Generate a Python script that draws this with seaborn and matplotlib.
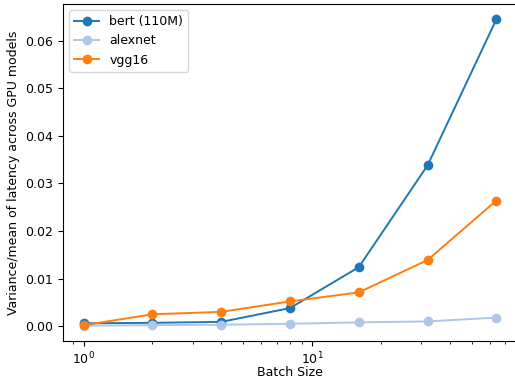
import matplotlib
matplotlib.use("Agg")
import matplotlib.pyplot as plt
import seaborn as sns
import pandas as pd

batch_sizes = [1, 2, 4, 8, 16, 32, 64]
bert = [0.0006, 0.0007, 0.0009, 0.0038, 0.0124, 0.0338, 0.0645]
alexnet = [0.0001, 0.0002, 0.0003, 0.0005, 0.0008, 0.0010, 0.0018]
vgg16 = [0.0002, 0.0025, 0.0030, 0.0052, 0.0071, 0.0139, 0.0264]
series_names = ["bert (110M)", "alexnet", "vgg16"]
colors = ["#1f77b4", "#aec7e8", "#ff7f0e"]

rows = []
for name, vals in zip(series_names, [bert, alexnet, vgg16]):
    for b, v in zip(batch_sizes, vals):
        rows.append({"Batch Size": b, "value": v, "model": name})
df = pd.DataFrame(rows)

plt.rcParams["font.size"] = 9

W, H = 515, 381
DPI = 100
fig = plt.figure(figsize=(W / DPI, H / DPI), dpi=DPI)
ax = fig.add_axes([63 / W, 1 - 341 / H, (517 - 63) / W, (341 - 4) / H])
sns.lineplot(data=df, x="Batch Size", y="value", hue="model",
             hue_order=series_names, palette=colors, marker="o",
             markersize=7, markeredgewidth=0, linewidth=1.4, ax=ax)
ax.set_xscale("log")
ax.set_xlabel("Batch Size", labelpad=-1)
ax.set_ylabel("Variance/mean of latency across GPU models")
ax.legend(loc="upper left", title=None)
fig.savefig("out.png", dpi=DPI)
